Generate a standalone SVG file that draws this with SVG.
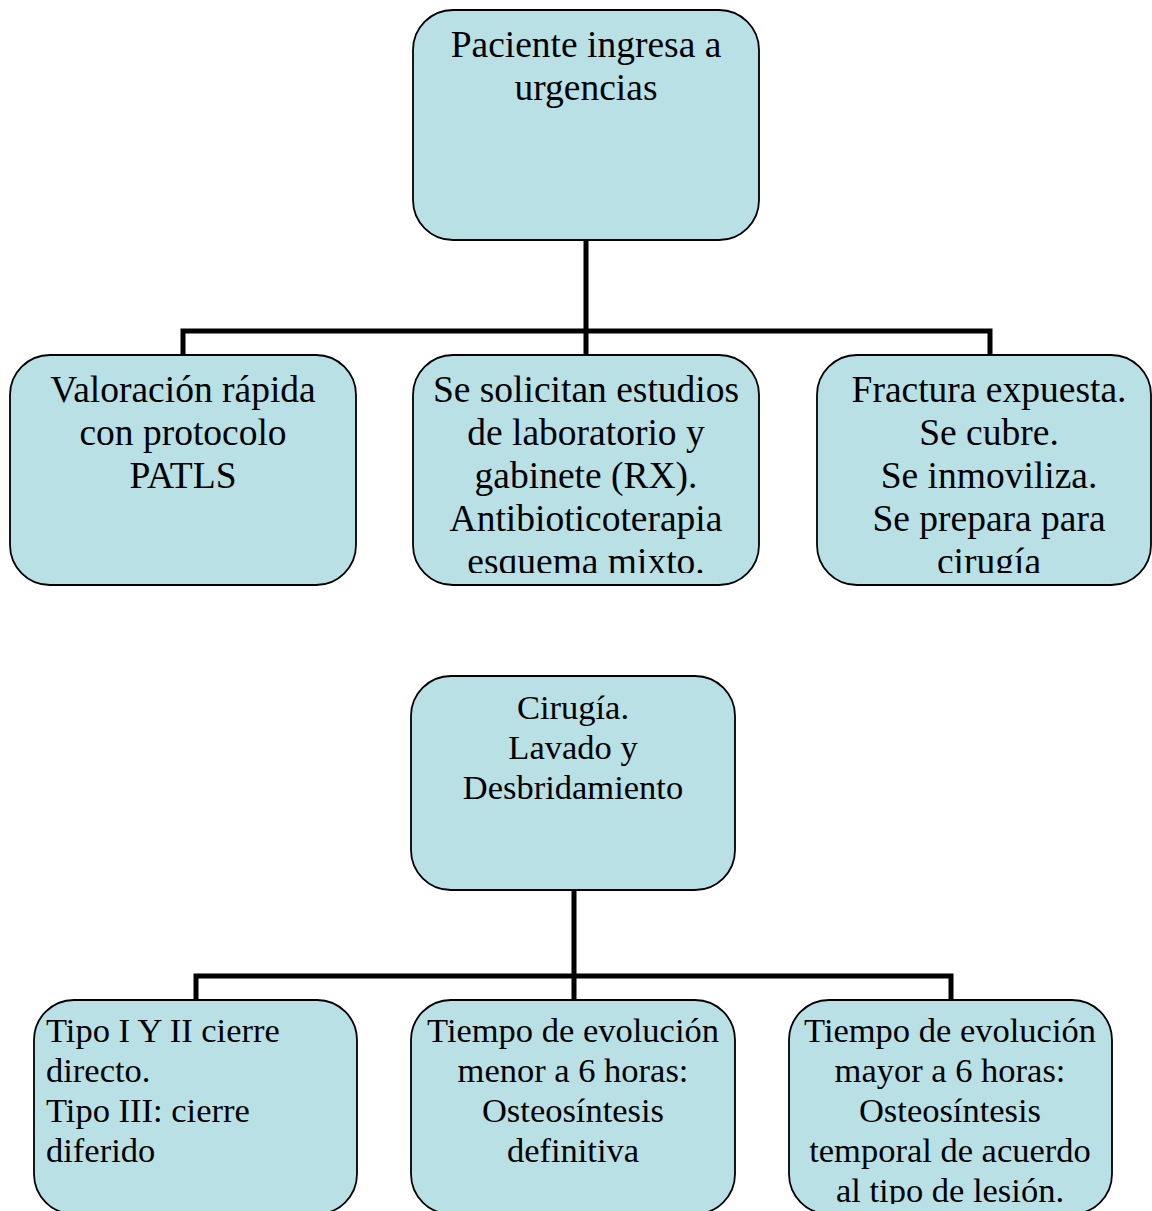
<svg xmlns="http://www.w3.org/2000/svg" width="1152" height="1211" viewBox="0 0 1152 1211">
<style>
.box{fill:#b9e0e4;stroke:#000;stroke-width:1.8}
.t{font-family:"Liberation Serif","Times New Roman",serif;fill:#000}
.big{font-size:37.5px}
.sm{font-size:34.5px}
.c{fill:none;stroke:#000;stroke-width:5}
</style>
<defs>
<clipPath id="cp2"><rect x="413" y="355" width="346" height="218"/></clipPath>
<clipPath id="cp3"><rect x="817" y="355" width="334" height="218"/></clipPath>
<clipPath id="cp6"><rect x="789" y="1000" width="323" height="204"/></clipPath>
</defs>
<g id="connectors">
<path class="c" d="M586 240V331M183 355V331H990V355M586 331V355"/>
<path class="c" d="M574 890V976M196 1000V976H951V1000M574 976V1000"/>
</g>
<g id="n1">
<rect class="box" x="413" y="10" width="346" height="230" rx="40"/>
<text class="t big" text-anchor="middle"><tspan x="586" y="57">Paciente ingresa a</tspan><tspan x="586" y="100">urgencias</tspan></text>
</g>
<g id="n2">
<rect class="box" x="10" y="355" width="346" height="230" rx="40"/>
<text class="t big" text-anchor="middle"><tspan x="183" y="402">Valoración rápida</tspan><tspan x="183" y="445">con protocolo</tspan><tspan x="183" y="488">PATLS</tspan></text>
</g>
<g id="n3">
<rect class="box" x="413" y="355" width="346" height="230" rx="40"/>
<text class="t big" text-anchor="middle" clip-path="url(#cp2)"><tspan x="586" y="402">Se solicitan estudios</tspan><tspan x="586" y="445">de laboratorio y</tspan><tspan x="586" y="488">gabinete (RX).</tspan><tspan x="586" y="531">Antibioticoterapia</tspan><tspan x="586" y="574">esquema mixto.</tspan></text>
</g>
<g id="n4">
<rect class="box" x="817" y="355" width="334" height="230" rx="40"/>
<text class="t big" text-anchor="middle" clip-path="url(#cp3)"><tspan x="989" y="402">Fractura expuesta.</tspan><tspan x="989" y="445">Se cubre.</tspan><tspan x="989" y="488">Se inmoviliza.</tspan><tspan x="989" y="531">Se prepara para</tspan><tspan x="989" y="574">cirugía</tspan></text>
</g>
<g id="n5">
<rect class="box" x="411" y="676" width="324" height="214" rx="40"/>
<text class="t sm" text-anchor="middle"><tspan x="573" y="719">Cirugía.</tspan><tspan x="573" y="759">Lavado y</tspan><tspan x="573" y="799">Desbridamiento</tspan></text>
</g>
<g id="n6">
<rect class="box" x="34" y="1000" width="323" height="214" rx="40"/>
<text class="t sm"><tspan x="46" y="1042">Tipo I Y II cierre</tspan><tspan x="46" y="1082">directo.</tspan><tspan x="46" y="1122">Tipo III: cierre</tspan><tspan x="46" y="1162">diferido</tspan></text>
</g>
<g id="n7">
<rect class="box" x="411" y="1000" width="324" height="214" rx="40"/>
<text class="t sm" text-anchor="middle"><tspan x="573" y="1042">Tiempo de evolución</tspan><tspan x="573" y="1082">menor a 6 horas:</tspan><tspan x="573" y="1122">Osteosíntesis</tspan><tspan x="573" y="1162">definitiva</tspan></text>
</g>
<g id="n8">
<rect class="box" x="789" y="1000" width="323" height="214" rx="40"/>
<text class="t sm" text-anchor="middle" clip-path="url(#cp6)"><tspan x="950" y="1042">Tiempo de evolución</tspan><tspan x="950" y="1082">mayor a 6 horas:</tspan><tspan x="950" y="1122">Osteosíntesis</tspan><tspan x="950" y="1162">temporal de acuerdo</tspan><tspan x="950" y="1202">al tipo de lesión.</tspan></text>
</g>
</svg>
